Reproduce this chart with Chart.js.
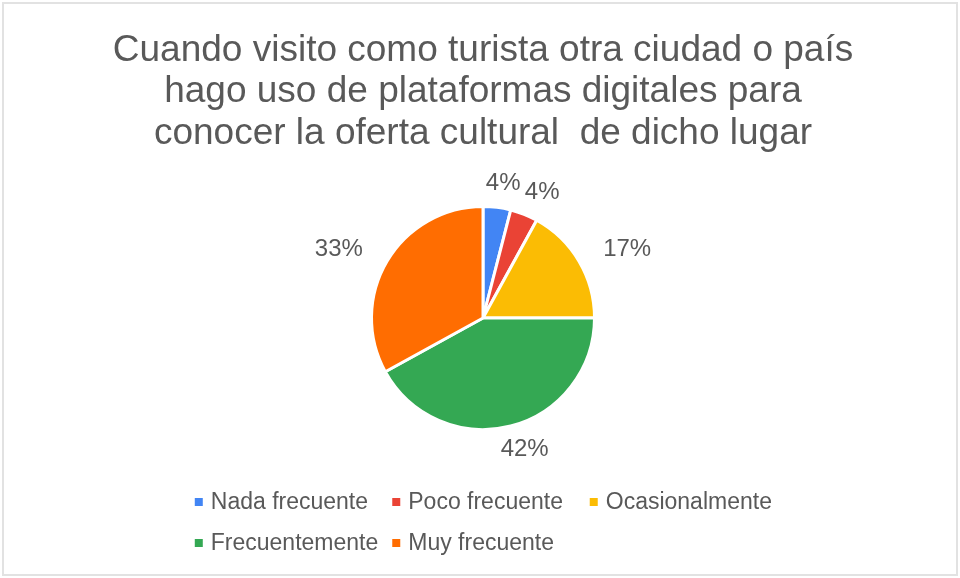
<!DOCTYPE html>
<html lang="es">
<head>
<meta charset="utf-8">
<title>Plataformas digitales y oferta cultural</title>
<script src="https://cdn.jsdelivr.net/npm/chart.js@4.4.1/dist/chart.umd.min.js"></script>
<style>
  html, body { margin: 0; padding: 0; background: #fff; }
  #marco { position: relative; width: 960px; height: 578px; }
  #marco canvas { position: absolute; left: 0; top: 0; }
  #borde { position: absolute; left: 2px; top: 2px; width: 952px; height: 570px; border: 2px solid #e2e2e2; pointer-events: none; }
</style>
</head>
<body>
<div id="marco">
  <canvas id="grafico" width="960" height="578"></canvas>
  <div id="borde"></div>
</div>
<script>
// Datos de la encuesta
const categorias = ['Nada frecuente', 'Poco frecuente', 'Ocasionalmente', 'Frecuentemente', 'Muy frecuente'];
const porcentajes = [4, 4, 17, 42, 33];
const colores = ['#4285F4', '#EA4335', '#FBBC04', '#34A853', '#FF6D01'];
const titulo = [
    'Cuando visito como turista otra ciudad o país',
    'hago uso de plataformas digitales para',
    'conocer la oferta cultural  de dicho lugar'
];

const colorTexto = '#595959';
const fuente = "'Liberation Sans', Arial, sans-serif";

// Etiquetas de porcentaje fuera de cada porción
const etiquetasExternas = {
    id: 'etiquetasExternas',
    afterDatasetsDraw(chart) {
        const ctx = chart.ctx;
        const arcos = chart.getDatasetMeta(0).data;
        const valores = chart.data.datasets[0].data;
        const total = valores.reduce((s, v) => s + v, 0);
        ctx.save();
        ctx.font = '24px ' + fuente;
        ctx.fillStyle = colorTexto;
        ctx.textAlign = 'center';
        ctx.textBaseline = 'middle';
        arcos.forEach((arco, i) => {
            const p = arco.getProps(['x', 'y', 'startAngle', 'endAngle', 'outerRadius'], true);
            const medio = (p.startAngle + p.endAngle) / 2;
            const texto = Math.round(valores[i] / total * 100) + '%';
            const w = ctx.measureText(texto).width;
            const h = 20;
            const dx = Math.cos(medio), dy = Math.sin(medio);
            const x = p.x + (p.outerRadius + 32) * dx + w / 2 * dx;
            const y = p.y + (p.outerRadius + 14) * dy + h / 2 * dy;
            ctx.fillText(texto, x, y);
        });
        ctx.restore();
    }
};

// Leyenda en columnas de igual ancho, centrada bajo el gráfico
const leyendaColumnas = {
    id: 'leyendaColumnas',
    afterDraw(chart) {
        const ctx = chart.ctx;
        const etiquetas = chart.data.labels;
        const fondo = chart.data.datasets[0].backgroundColor;
        ctx.save();
        ctx.font = '23px ' + fuente;
        const caja = 8, hueco = 8, sep = 14;
        const anchoCol = Math.max(...etiquetas.map(t => caja + hueco + ctx.measureText(t).width)) + sep;
        const disponible = 640;
        const columnas = Math.max(1, Math.floor(disponible / anchoCol));
        const anchoFila = Math.min(columnas, etiquetas.length) * anchoCol - sep;
        const x0 = chart.width / 2 - anchoFila / 2 + 4;
        const y0 = 502, alto = 41;
        ctx.textBaseline = 'middle';
        etiquetas.forEach((t, i) => {
            const x = x0 + (i % columnas) * anchoCol;
            const y = y0 + Math.floor(i / columnas) * alto;
            ctx.fillStyle = fondo[i];
            ctx.fillRect(x, y - caja / 2, caja, caja);
            ctx.fillStyle = colorTexto;
            ctx.fillText(t, x + caja + hueco, y + 1);
        });
        ctx.restore();
    }
};

new Chart(document.getElementById('grafico'), {
    type: 'pie',
    data: {
        labels: categorias,
        datasets: [{
            data: porcentajes,
            backgroundColor: colores,
            borderColor: '#ffffff',
            borderWidth: 3
        }]
    },
    options: {
        responsive: false,
        animation: false,
        layout: { padding: { left: 6, right: 0, top: 0, bottom: 147 } },
        plugins: {
            title: {
                display: true,
                text: titulo,
                color: colorTexto,
                font: { family: fuente, size: 37, weight: 'normal', lineHeight: 41.5 / 37 },
                padding: { top: 30, bottom: 50.5 }
            },
            legend: { display: false },
            tooltip: { enabled: false }
        }
    },
    plugins: [etiquetasExternas, leyendaColumnas]
});
</script>
</body>
</html>
